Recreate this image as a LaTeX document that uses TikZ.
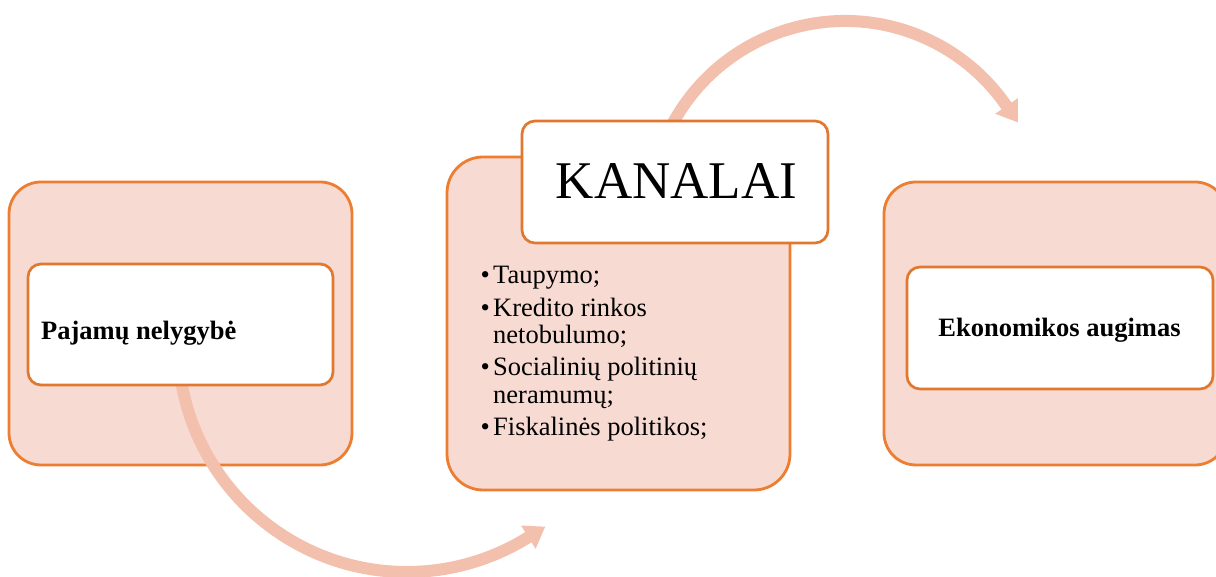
\documentclass[tikz,border=0pt]{standalone}
\usepackage{fontspec}
\setmainfont{Liberation Serif}
\usetikzlibrary{arrows.meta}
\definecolor{orng}{HTML}{ED7D31}
\definecolor{orngdark}{HTML}{E0782F}
\definecolor{peach}{HTML}{F7DBD2}
\definecolor{salmon}{HTML}{F3C0AE}
\begin{document}
\begin{tikzpicture}[x=1pt,y=1pt,
  outerbox/.style={draw=orng, line width=2.8pt, fill=peach, inner sep=0pt, minimum width=343pt},
  innerbox/.style={draw=orngdark, line width=2.7pt, fill=white, rounded corners=13pt, inner sep=0pt},
  flow/.style={draw=salmon, line width=12pt, -{Triangle[length=20pt,width=26pt]}},
  boldlabel/.style={font=\fontsize{26.5}{30}\selectfont\bfseries, inner sep=0pt},
  itemtext/.style={font=\fontsize{26.5}{30}\selectfont, inner sep=0pt, anchor=base west},
  bulletmark/.style={font=\fontsize{26.5}{30}\selectfont, inner sep=0pt, anchor=base east}]
\useasboundingbox (0,0) rectangle (1216,577);
\fill[white] (0,0) rectangle (1216,577);

% outer boxes
\node[outerbox, rounded corners=32pt, minimum height=283pt] (leftouter) at (180.5,253.5) {};
\node[outerbox, rounded corners=36pt, minimum height=333pt] (midouter) at (618.5,253.5) {};
\node[outerbox, rounded corners=32pt, minimum height=283pt] (rightouter) at (1055.5,253.5) {};

% arrows
\coordinate (lowc) at (407,234);
\coordinate (highc) at (845,360);
\draw[flow] ([shift={(185:229pt)}]lowc) arc[start angle=185, end angle=302, radius=229pt] -- ++(32:20pt);
\draw[flow] ([shift={(153:196pt)}]highc) arc[start angle=153, end angle=34.5, radius=196pt] -- ++(-55.5:20pt);

% inner boxes
\node[innerbox, minimum width=305pt, minimum height=121pt] (leftinner) at (180.5,252.5) {};
\node[innerbox, minimum width=306pt, minimum height=122pt] (kanalai) at (675,395) {};
\node[innerbox, minimum width=306pt, minimum height=122pt] (rightinner) at (1060,249) {};

% texts
\node[boldlabel, anchor=base west] (pajamu) at (41,237) {Pajamų nelygybė};
\node[boldlabel, anchor=base] (ekonomikos) at (1059.5,240) {Ekonomikos augimas};
\node[font=\fontsize{53}{60}\selectfont, inner sep=0pt, anchor=base] (kanalaitext) at (676.5,378.7) {KANALAI};

\node[bulletmark] (b1) at (490,293) {•};
\node[itemtext] (t1) at (493,293) {Taupymo;};
\node[bulletmark] (b2) at (490,260.3) {•};
\node[itemtext] (t2) at (493,260.3) {Kredito rinkos};
\node[itemtext] (t2b) at (493,233.7) {netobulumo;};
\node[bulletmark] (b3) at (490,201.3) {•};
\node[itemtext] (t3) at (493,201.3) {Socialinių politinių};
\node[itemtext] (t3b) at (493,173.7) {neramumų;};
\node[bulletmark] (b4) at (490,141) {•};
\node[itemtext] (t4) at (493,141) {Fiskalinės politikos;};
\end{tikzpicture}
\end{document}
